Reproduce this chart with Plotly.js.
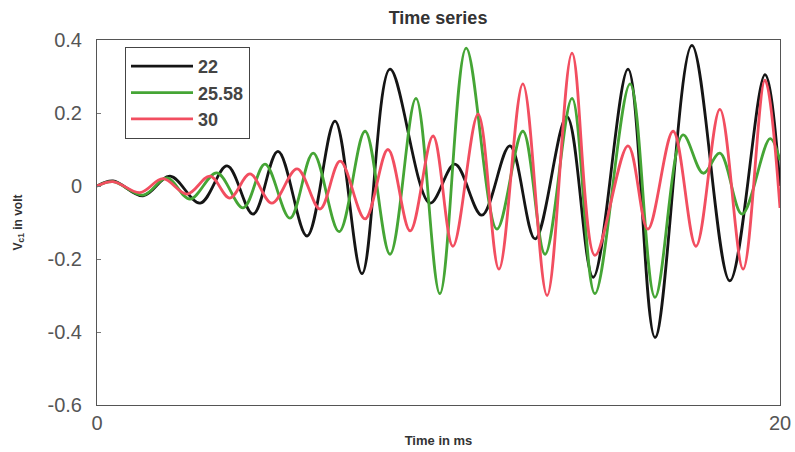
<!DOCTYPE html>
<html>
<head>
<meta charset="utf-8">
<script src="https://cdn.plot.ly/plotly-3.0.1.min.js"></script>
<style>html,body{margin:0;padding:0;background:#fff;}#chart{width:795px;height:452px;}</style>
</head>
<body>
<div id="chart"></div>
<script>
// Series names
var seriesNames = ["22", "25.58", "30"];

// Black (22): extrema times (ms) and values (V)
var tBlack = [0, 0.47, 1.35, 2.14, 3.02, 3.81, 4.57, 5.30, 6.15, 6.97, 7.76, 8.58, 9.75, 10.48, 11.27, 12.09, 12.83, 13.76, 14.53, 15.55, 16.34, 17.42, 18.53, 19.56, 20];
var vBlack = [0, 0.014, -0.027, 0.027, -0.047, 0.055, -0.077, 0.095, -0.137, 0.178, -0.24, 0.32, -0.047, 0.06, -0.08, 0.11, -0.145, 0.19, -0.25, 0.32, -0.415, 0.385, -0.26, 0.305, 0.0];

// Green (25.58)
var tGreen = [0, 0.47, 1.35, 2.05, 2.72, 3.51, 4.28, 4.92, 5.65, 6.33, 7.09, 7.85, 8.58, 9.34, 10.04, 10.81, 11.71, 12.47, 13.12, 13.91, 14.58, 15.61, 16.34, 17.16, 17.75, 18.24, 18.89, 19.71, 20];
var vGreen = [0, 0.012, -0.025, 0.022, -0.036, 0.036, -0.06, 0.06, -0.088, 0.09, -0.125, 0.15, -0.187, 0.24, -0.295, 0.378, -0.118, 0.15, -0.187, 0.24, -0.295, 0.28, -0.305, 0.14, 0.035, 0.09, -0.077, 0.13, 0.07];

// Red (30)
var tRed = [0, 0.47, 1.26, 1.93, 2.64, 3.31, 3.89, 4.48, 5.12, 5.86, 6.53, 7.12, 7.85, 8.52, 9.17, 9.84, 10.42, 11.16, 11.77, 12.47, 13.18, 13.91, 14.58, 15.55, 16.13, 16.87, 17.54, 18.24, 18.92, 19.56, 20];
var vRed = [0, 0.012, -0.018, 0.02, -0.022, 0.027, -0.033, 0.033, -0.047, 0.047, -0.063, 0.068, -0.09, 0.10, -0.123, 0.137, -0.165, 0.197, -0.228, 0.28, -0.30, 0.364, -0.19, 0.11, -0.118, 0.15, -0.165, 0.21, -0.228, 0.29, -0.06];

// Axis ticks
var xTicks = [0, 20];
var yTicks = [-0.6, -0.4, -0.2, 0, 0.2, 0.4];
var yTickText = ["-0.6", "-0.4", "-0.2", "0", "0.2", "0.4"];

var colors = ["#151515", "#45a535", "#f24e60"];
var ts = [tBlack, tGreen, tRed];
var vs = [vBlack, vGreen, vRed];

var traces = seriesNames.map(function (n, i) {
  return {
    x: ts[i], y: vs[i], name: n, type: "scatter", mode: "lines",
    line: {color: colors[i], width: 2.8, shape: "spline", smoothing: 1}
  };
});

var font = "Liberation Sans, Arial, sans-serif";
var layout = {
  width: 795, height: 452,
  margin: {l: 97, r: 15, t: 40, b: 47},
  paper_bgcolor: "#fff", plot_bgcolor: "#fff",
  showlegend: true,
  title: {text: "<b>Time series</b>", x: 0.551, xanchor: "center", y: 0.96, yanchor: "middle",
          font: {family: font, size: 18, color: "#333"}},
  xaxis: {
    range: [0, 20], tickvals: xTicks, ticktext: ["0", "20"],
    showgrid: false, zeroline: false, showline: true, mirror: true,
    linecolor: "#555", linewidth: 1, ticks: "",
    tickfont: {family: font, size: 20, color: "#555"},
    title: {text: "<b>Time in ms</b>", standoff: 2, font: {family: font, size: 13, color: "#333"}}
  },
  yaxis: {
    range: [-0.6, 0.4], tickvals: yTicks, ticktext: yTickText,
    showgrid: false, zeroline: false, showline: true, mirror: true,
    linecolor: "#555", linewidth: 1, ticks: "inside", ticklen: 4, tickcolor: "#777",
    ticklabelstandoff: 10,
    tickfont: {family: font, size: 20, color: "#555"},
    title: {text: "<b>V<sub>c1</sub> in volt</b>", standoff: 22, font: {family: font, size: 12, color: "#333"}}
  },
  legend: {
    x: 0.041, y: 0.981, xanchor: "left", yanchor: "top",
    bgcolor: "#fff", bordercolor: "#444", borderwidth: 1,
    font: {family: font, size: 18, color: "#444", weight: "bold"},
    itemwidth: 62,
    entrywidth: 150, entrywidthmode: "pixels",
    tracegroupgap: 0
  }
};

Plotly.newPlot("chart", traces, layout, {displayModeBar: false, staticPlot: true});
</script>
</body>
</html>
